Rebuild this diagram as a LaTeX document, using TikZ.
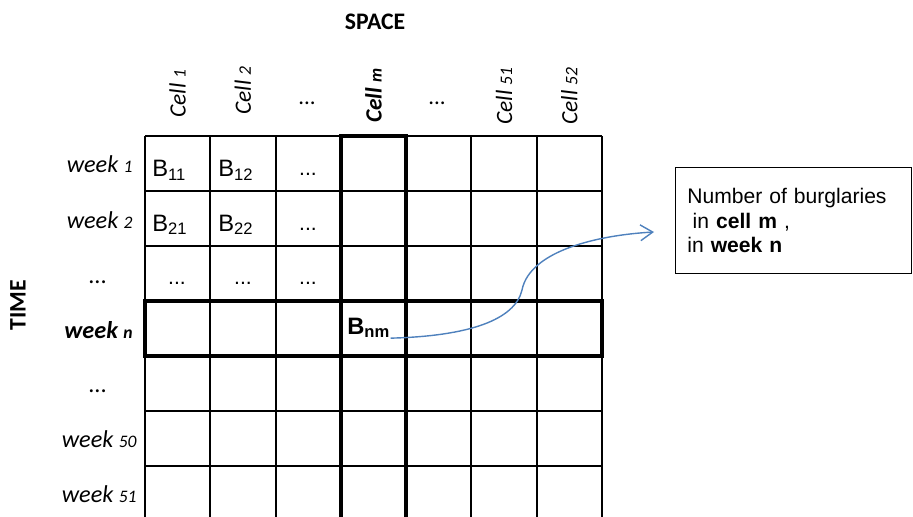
\documentclass[tikz,border=0pt]{standalone}
\usepackage{fontspec}
\setmainfont{Liberation Sans}
\newfontfamily\calfont{Carlito}
\usetikzlibrary{arrows.meta,positioning,calc}
\definecolor{linkblue}{RGB}{79,129,189}
\newcommand{\smallnum}[1]{{\fontsize{10}{12}\selectfont #1}}

\begin{document}
\begin{tikzpicture}[x=0.02cm, y=-0.02cm,
    every node/.style={inner sep=0pt},
    axislabel/.style={font=\calfont\bfseries\fontsize{13.5}{15}\selectfont},
    rowlabel/.style={font=\calfont\itshape\fontsize{13.8}{15}\selectfont, anchor=base east},
    collabel/.style={font=\calfont\itshape\fontsize{13.3}{15}\selectfont, rotate=90, anchor=west},
    entry/.style={font=\fontsize{13.5}{15}\selectfont, anchor=base west},
    dots/.style={font=\fontsize{12}{14}\selectfont, anchor=base},
    thinline/.style={line width=1.1pt},
    thickline/.style={line width=2.3pt},
    infobox/.style={draw, line width=0.6pt, inner xsep=6.8pt, text width=120.8pt,
        minimum height=60.7pt, align=left, font=\fontsize{12}{14.2}\selectfont},
    link/.style={linkblue, line width=0.8pt, -{Straight Barb[length=7pt,width=9pt]}}]
    \useasboundingbox (0,0) rectangle (913,517);

    % Axis titles
    \node[axislabel] (space) at (375,22) {SPACE};
    \node[axislabel, rotate=90] (time) at (18,305) {TIME};

    % Grid of cells (weeks x cells)
    \foreach \i in {0,...,7}
        \draw[thinline] (145+65.29*\i,136) -- (145+65.29*\i,521);
    \foreach \j in {0,...,6}
        \draw[thinline] (145,136+55*\j) -- (602,136+55*\j);

    % Highlighted column m and row n
    \draw[thickline] (341,521) -- (341,136) -- (406,136) -- (406,521);
    \draw[thickline] (145,301) rectangle (602,356);

    % Column labels
    \foreach \i/\yy/\txt in {0/118/{Cell \smallnum{1}}, 1/115/{Cell \smallnum{2}},
        3/123/{\bfseries Cell \smallnum{m}}, 5/125/{Cell \smallnum{51}}, 6/125/{Cell \smallnum{52}}}
        \node[collabel] (col\i) at (145+65.29*\i+32.6,\yy) {\txt};
    \node[dots, font=\calfont\fontsize{13}{15}\selectfont] (coldotsa) at (307,105) {...};
    \node[dots, font=\calfont\fontsize{13}{15}\selectfont] (coldotsb) at (437,105) {...};

    % Row labels
    \node[rowlabel] (row1) at (133,173) {week \smallnum{1}};
    \node[rowlabel] (row2) at (133,228) {week \smallnum{2}};
    \node[rowlabel, anchor=base] (rowdotsa) at (98,283) {...};
    \node[rowlabel, font=\calfont\bfseries\itshape\fontsize{13.8}{15}\selectfont] (rown) at (133,338) {week \smallnum{n}};
    \node[rowlabel, anchor=base] (rowdotsb) at (98,392) {...};
    \node[rowlabel] (row50) at (137,447) {week \smallnum{50}};
    \node[rowlabel] (row51) at (137,502) {week \smallnum{51}};

    % Cell entries
    \node[entry] (b11) at (152,176.5) {B\textsubscript{11}};
    \node[entry] (b12) at (218,176.5) {B\textsubscript{12}};
    \node[dots] (d13) at (308,175) {...};
    \node[entry] (b21) at (152,231) {B\textsubscript{21}};
    \node[entry] (b22) at (218,231) {B\textsubscript{22}};
    \node[dots] (d23) at (308,230) {...};
    \node[dots] (d31) at (177,284) {...};
    \node[dots] (d32) at (243,284) {...};
    \node[dots] (d33) at (308,284) {...};
    \node[entry, font=\bfseries\fontsize{13.5}{15}\selectfont] (bnm) at (347,334) {B\textsubscript{nm}};

    % Explanation box
    \node[infobox] (box) at (793.5,220.5) {Number of burglaries\\
        \hspace*{0.25em}in \textbf{cell m} ,\\
        in \textbf{week n}};

    % Link from B_nm to the box
    \coordinate (bend) at (522,290);
    \coordinate (tip) at (654,232);
    \draw[link] (bnm.south east) .. controls +(78,-2) and +(-7,30) .. (bend)
        .. controls +(8,-40) and +(-54,3) .. (tip);
\end{tikzpicture}
\end{document}
